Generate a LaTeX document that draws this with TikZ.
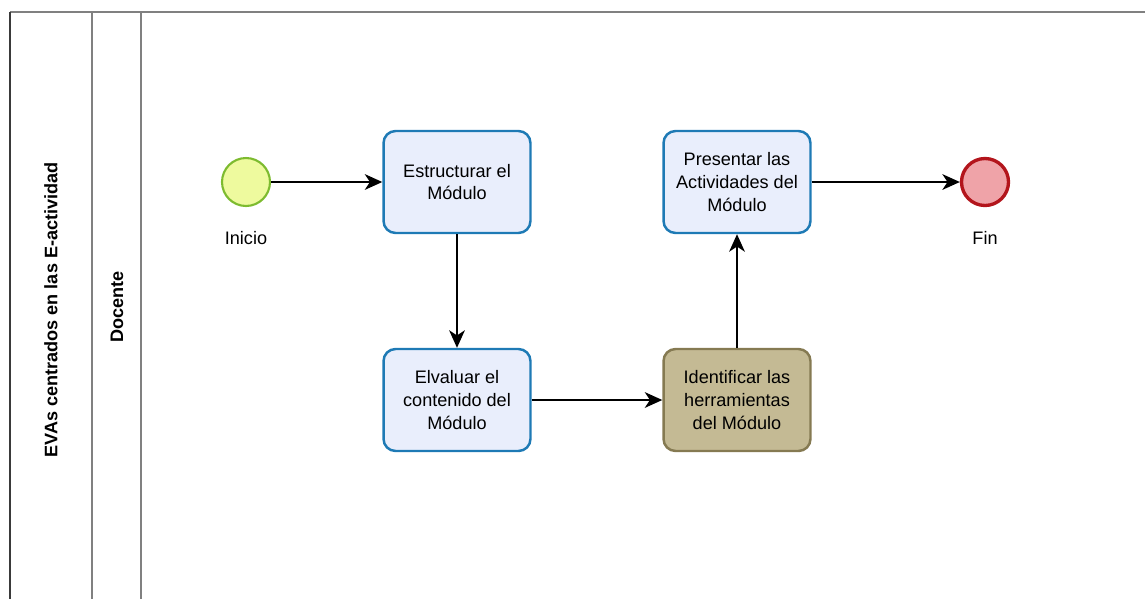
\documentclass[tikz,border=0pt]{standalone}
\usepackage{fontspec}
\setmainfont{Liberation Sans}
\usepackage{tikz}
\usetikzlibrary{arrows.meta, positioning}
\definecolor{LaneGray}{HTML}{808080}
\definecolor{LaneDark}{HTML}{3A3A3A}
\definecolor{TaskBlue}{HTML}{1E7AB5}
\definecolor{TaskFill}{HTML}{E9EEFC}
\definecolor{ToolFill}{HTML}{C4BA94}
\definecolor{ToolLine}{HTML}{857A52}
\definecolor{StartFill}{HTML}{EEFA9E}
\definecolor{StartLine}{HTML}{7DBB2F}
\definecolor{EndFill}{HTML}{EFA3A8}
\definecolor{EndLine}{HTML}{B3151C}
\tikzset{
  % Box styles
  taskbox/.style={rectangle, rounded corners=0.24cm, draw=TaskBlue, fill=TaskFill, line width=1.4pt, minimum width=2.94cm, minimum height=2.04cm, font=\fontsize{10.3}{13}\selectfont, align=center},
  toolbox/.style={taskbox, draw=ToolLine, fill=ToolFill},
  % Event styles
  startevent/.style={circle, draw=StartLine, fill=StartFill, line width=1.2pt, minimum size=0.96cm, inner sep=0pt},
  endevent/.style={circle, draw=EndLine, fill=EndFill, line width=1.9pt, minimum size=0.94cm, inner sep=0pt},
  eventlabel/.style={font=\fontsize{10.3}{13}\selectfont},
  lanelabel/.style={rotate=90, font=\fontsize{10.3}{13}\selectfont\bfseries},
  % Arrow styles
  arrow/.style={-{Stealth[length=10pt, width=9pt, inset=3pt]}, line width=0.85pt, black}
}
\begin{document}
\begin{tikzpicture}[x=0.02cm, y=-0.02cm]
  \useasboundingbox (0,0) rectangle (1145,599);
  % Pool and lane
  \draw[LaneGray, line width=1.1pt] (10,12) -- (1145,12);
  \draw[LaneDark, line width=1.1pt] (10,12) -- (10,599);
  \draw[LaneGray, line width=1.1pt] (92,12) -- (92,599);
  \draw[LaneGray, line width=1.1pt] (141,12) -- (141,599);
  \node[lanelabel] (pool) at (51,310) {EVAs centrados en las E-actividad};
  \node[lanelabel] (docente) at (117,307) {Docente};
  % Events
  \node[startevent] (inicio) at (246,182) {};
  \node[eventlabel] (inicioLbl) at (246,238) {Inicio};
  \node[endevent] (fin) at (985,182) {};
  \node[eventlabel] (finLbl) at (985,238) {Fin};
  % Tasks
  \node[taskbox] (estructurar) at (457,182) {Estructurar el\\Módulo};
  \node[taskbox] (evaluar) at (457,400) {Elvaluar el\\contenido del\\Módulo};
  \node[toolbox] (identificar) at (737,400) {Identificar las\\herramientas\\del Módulo};
  \node[taskbox] (presentar) at (737,182) {Presentar las\\Actividades del\\Módulo};
  % Flows
  \draw[arrow] (inicio) -- (estructurar);
  \draw[arrow] (estructurar) -- (evaluar);
  \draw[arrow] (evaluar) -- (identificar);
  \draw[arrow] (identificar) -- (presentar);
  \draw[arrow] (presentar) -- (fin);
\end{tikzpicture}
\end{document}
